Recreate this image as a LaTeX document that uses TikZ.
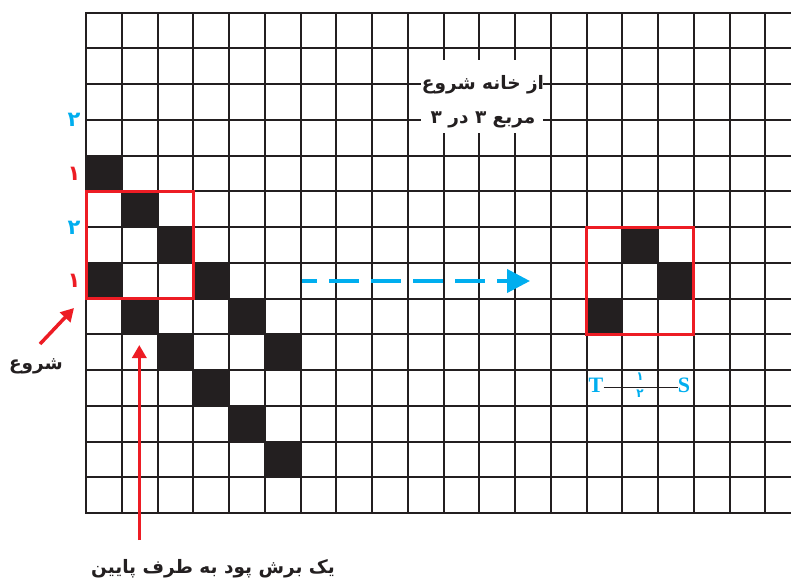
\documentclass[tikz,border=0pt]{standalone}
\usepackage{fontspec}
\usetikzlibrary{arrows.meta}
\TeXXeTstate=1
\newfontfamily\fa[Script=Arabic]{DejaVu Sans}
\newfontfamily\tmr{Liberation Serif}
\definecolor{ink}{RGB}{35,31,32}
\definecolor{redc}{RGB}{237,28,36}
\definecolor{bluec}{RGB}{0,174,239}
\tikzset{
  gridline/.style={ink, line width=2pt},
  cellfill/.style={fill=ink},
  redbox/.style={draw=redc, line width=3pt},
  redarrow/.style={draw=redc, line width=3.5pt, -{Triangle[length=13pt,width=14pt]}},
  bluearrow/.style={draw=bluec, line width=4pt, dash pattern=on 29.5pt off 12.5pt, dash phase=14.5pt, -{Triangle[length=23pt,width=23pt]}},
  fatext/.style={font=\fa\bfseries\fontsize{18.5}{21}\selectfont, text=ink, inner sep=1pt},
  numlbl/.style={font=\fa\bfseries\fontsize{21}{22}\selectfont, inner sep=0pt},
  tslbl/.style={font=\tmr\bfseries\fontsize{22}{24}\selectfont, text=bluec, inner sep=0pt},
  fraclbl/.style={font=\fa\bfseries\fontsize{12}{13}\selectfont, text=bluec, inner sep=0pt}
}
\begin{document}
\begin{tikzpicture}[x=1pt,y=-1pt]
\useasboundingbox (0,0) rectangle (791,581);
\fill[white] (0,0) rectangle (791,581);
% black cells
\foreach \c/\r in {0/4,1/5,2/6,3/7,4/8,5/9,0/7,1/8,2/9,3/10,4/11,5/12,15/6,16/7,14/8}
  \fill[cellfill] ({86+35.75*\c},{12.7+35.75*\r}) rectangle +(35.75,35.75);
% grid
\begin{scope}
\clip (0,0) rectangle (791,581);
\foreach \i in {0,...,19}
  \draw[gridline] ({86+35.75*\i},12.7) -- ({86+35.75*\i},513.2);
\foreach \j in {0,...,14}
  \draw[gridline] (85,{12.7+35.75*\j}) -- (792,{12.7+35.75*\j});
\end{scope}
% red boxes
\draw[redbox] (86,191.45) rectangle (193.25,298.7);
\draw[redbox] (586.5,227.2) rectangle (693.75,334.45);
% top label
\fill[white] (421,60) rectangle (543,133);
\node[fatext] (l1) at (483,85) {\beginR از خانه شروع\endR};
\node[fatext] (l2) at (483,120) {\beginR مربع ۳ در ۳\endR};
% left numbers
\node[numlbl, text=bluec] (n1) at (74,120) {۲};
\node[numlbl, text=redc] (n2) at (74,173.5) {۱};
\node[numlbl, text=bluec] (n3) at (74,227.5) {۲};
\node[numlbl, text=redc] (n4) at (74,280.8) {۱};
% start
\node[fatext] (start) at (36,366) {\beginR شروع\endR};
\coordinate (sa) at (40,344);
\coordinate (sb) at (74,308);
\draw[redarrow] (sa) -- (sb);
% bottom label
\node[fatext] (down) at (213,569) {\beginR یک برش پود به طرف پایین\endR};
\coordinate (da) at (139.3,540);
\coordinate (db) at (139.3,345);
\draw[redarrow] (da) -- (db);
% blue dashed arrow
\coordinate (ba) at (301.7,281);
\coordinate (bb) at (530,281);
\draw[bluearrow] (ba) -- (bb);
% T -- S
\node[tslbl] (T) at (596,385) {T};
\node[tslbl] (S) at (684,385) {S};
\draw[ink, line width=0.8pt] (T.east |- 0,387.3) -- (S.west |- 0,387.3);
\node[fraclbl] (f1) at (640,377) {۱};
\node[fraclbl] (f2) at (640,394) {۲};
\end{tikzpicture}
\end{document}
